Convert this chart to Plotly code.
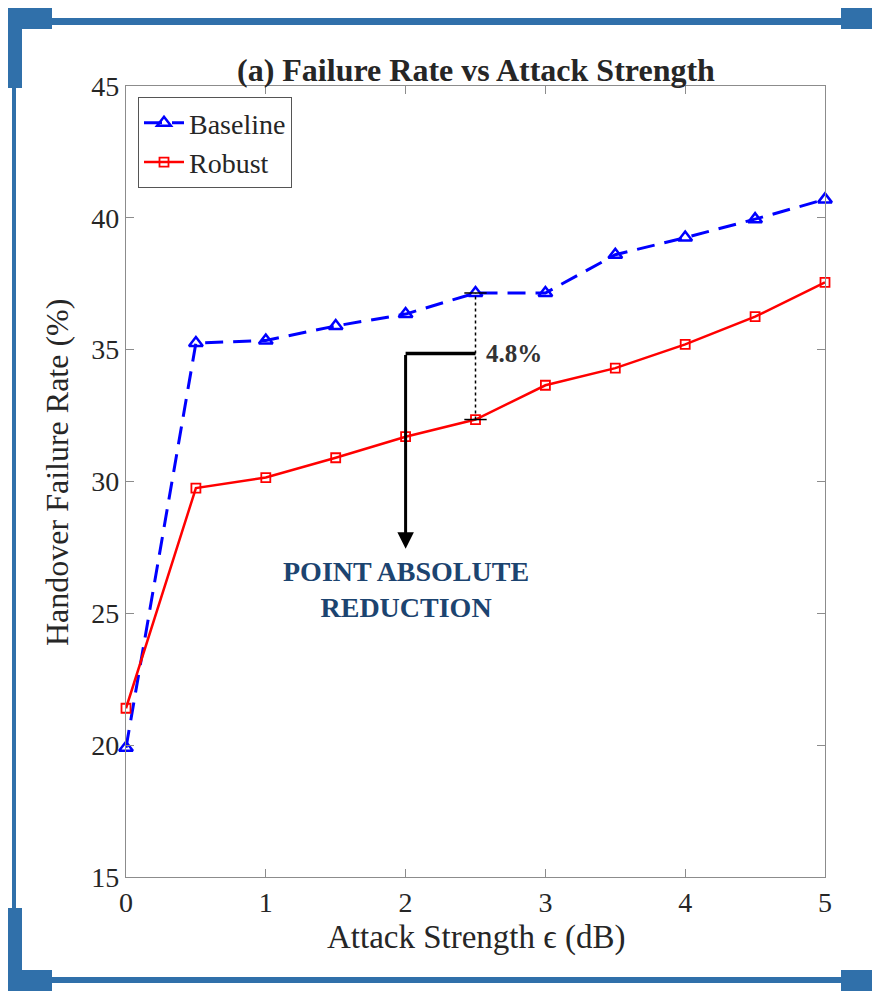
import plotly.graph_objects as go

# ---- data ----
attack_strength = [0, 0.5, 1, 1.5, 2, 2.5, 3, 3.5, 4, 4.5, 5]
baseline = [19.9, 35.25, 35.35, 35.9, 36.35, 37.15, 37.15, 38.6, 39.25, 39.95, 40.7]
robust = [21.4, 29.75, 30.15, 30.9, 31.7, 32.35, 33.65, 34.3, 35.2, 36.25, 37.55]
x_ticks = [0, 1, 2, 3, 4, 5]
y_ticks = [15, 20, 25, 30, 35, 40, 45]
gap_x = 2.5
gap_label = "4.8%"
bracket_x = 2.0
bracket_y = 34.85
arrow_end_y = 27.45

FONT = "Liberation Serif, Times New Roman, serif"
FRAME = "#3070aa"
AXC = "#8c8c8c"

# page is offset by the 8px body margin
OFF = 8
W_, H_ = 880, 991
L, R, T, B = 126, 825, 86, 877  # plot area in page pixels


def fx(px):
    return (px - L) / (R - L)


def fy(py):
    return (B - py) / (B - T)


fig = go.Figure()
fig.add_trace(go.Scatter(
    x=attack_strength, y=baseline, name="Baseline", mode="lines+markers", cliponaxis=False,
    line=dict(color="#0000ff", width=3, dash="18px,10px"),
    marker=dict(symbol="triangle-up-open", size=12, color="#0000ff", line=dict(width=2.5, color="#0000ff")),
))
fig.add_trace(go.Scatter(
    x=attack_strength, y=robust, name="Robust", mode="lines+markers", cliponaxis=False,
    line=dict(color="#ff0000", width=2.5),
    marker=dict(symbol="square-open", size=9, color="#ff0000", line=dict(width=1.8, color="#ff0000")),
))

i = attack_strength.index(gap_x)
shapes = []
shapes.append(dict(type="line", xref="x", yref="y", x0=gap_x, x1=gap_x, y0=robust[i], y1=baseline[i],
                   line=dict(color="black", width=1.5, dash="dot")))
for yv in (robust[i], baseline[i]):
    shapes.append(dict(type="line", xref="x", yref="y", x0=gap_x - 0.08, x1=gap_x + 0.08, y0=yv, y1=yv,
                       line=dict(color="black", width=1.5)))
shapes.append(dict(type="line", xref="x", yref="y", x0=bracket_x, x1=gap_x, y0=bracket_y, y1=bracket_y,
                   line=dict(color="black", width=3.5)))


def rect(x0, y0, x1, y1):
    return dict(type="rect", xref="paper", yref="paper", x0=fx(x0), x1=fx(x1), y0=fy(y1), y1=fy(y0),
                fillcolor=FRAME, line=dict(width=0), layer="above")


shapes.extend([
    rect(52, 18, 841, 25),
    rect(52, 977, 841, 983),
    rect(12, 88, 16, 908),
    rect(876, 88, 880, 907),
    rect(8, 6, 52, 29), rect(8, 6, 22, 88),
    rect(841, 6, 880, 29), rect(873, 6, 880, 88),
    rect(8, 908, 22, 991), rect(8, 970, 52, 991),
    rect(873, 907, 880, 991), rect(841, 970, 880, 991),
])

annotations = [
    dict(x=bracket_x, y=arrow_end_y, ax=bracket_x, ay=bracket_y, xref="x", yref="y", axref="x", ayref="y",
         showarrow=True, arrowhead=2, arrowsize=1.1, arrowwidth=3, arrowcolor="black", text=""),
    dict(x=gap_x + 0.06, y=bracket_y, xref="x", yref="y", text="<b>" + gap_label + "</b>", showarrow=False,
         xanchor="left", yanchor="middle", font=dict(family=FONT, size=25, color="#333333")),
    dict(x=bracket_x, y=25.9, xref="x", yref="y", text="<b>POINT ABSOLUTE<br>REDUCTION</b>", showarrow=False,
         xanchor="center", yanchor="middle", font=dict(family=FONT, size=28, color="#1c4470")),
    dict(x=0.5, y=fy(937), xref="paper", yref="paper", text="Attack Strength ϵ (dB)", showarrow=False,
         xanchor="center", yanchor="middle", font=dict(family=FONT, size=33, color="#262626")),
    dict(x=fx(57), y=fy(473), xref="paper", yref="paper", text="Handover Failure Rate (%)", showarrow=False,
         textangle=-90, xanchor="center", yanchor="middle", font=dict(family=FONT, size=32, color="#262626")),
    dict(x=0.5, y=fy(70), xref="paper", yref="paper", text="<b>(a) Failure Rate vs Attack Strength</b>",
         showarrow=False, xanchor="center", yanchor="middle", font=dict(family=FONT, size=32, color="#262626")),
]

axis_common = dict(showgrid=False, zeroline=False, showline=True, linecolor=AXC, linewidth=1.2,
                   mirror="ticks", ticks="inside", ticklen=8, tickcolor=AXC, tickwidth=1,
                   tickfont=dict(family=FONT, size=28, color="#262626"))

fig.update_layout(
    width=W_, height=H_,
    margin=dict(l=L - OFF, r=W_ - (R - OFF), t=T - OFF, b=H_ - (B - OFF)),
    paper_bgcolor="white", plot_bgcolor="white",
    showlegend=True,
    legend=dict(x=fx(138), y=fy(97), xanchor="left", yanchor="top", bgcolor="white",
                bordercolor="#555555", borderwidth=1, font=dict(family=FONT, size=28, color="#262626"),
                tracegroupgap=0, itemwidth=40),
    xaxis=dict(range=[0, 5], tickvals=x_ticks, **axis_common),
    yaxis=dict(range=[15, 45], tickvals=y_ticks, **axis_common),
    shapes=shapes,
    annotations=annotations,
)

fig.write_html("out.html")
